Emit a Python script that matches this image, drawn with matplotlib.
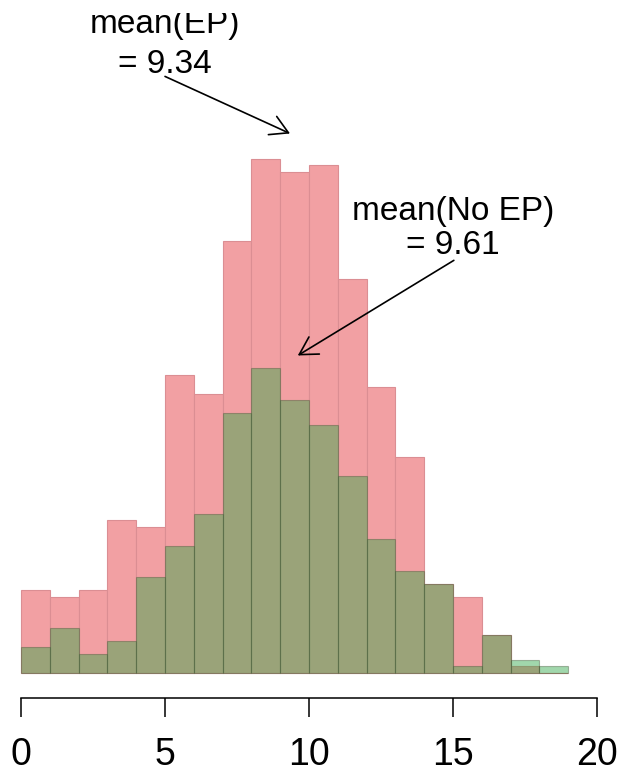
import numpy as np
import matplotlib
matplotlib.use("Agg")
import matplotlib.pyplot as plt

plt.rcParams['font.family'] = ['Liberation Sans', 'DejaVu Sans']

# bin edges 0..19, width 1
bin_left = np.arange(0, 19)
# counts
no_ep_counts = [13, 12, 13, 24, 23, 47, 44, 68, 81, 79, 80, 62, 45, 34, 14, 12, 6, 1, 0]
ep_counts = [4, 7, 3, 5, 15, 20, 25, 41, 48, 43, 39, 31, 21, 16, 14, 1, 6, 2, 1]

mean_ep = 9.34
mean_no_ep = 9.61

W, H = 621, 777
fig = plt.figure(figsize=(W / 100, H / 100), dpi=100)
# plot region like R's: 0..20 / 0..100 padded by 4%
ax = fig.add_axes([-2 / W, (H - 698) / H, 622 / W, (698 - 13) / H])

ax.bar(bin_left, no_ep_counts, width=1, align='edge', color='#F2A0A3',
       edgecolor='#DB8E93', linewidth=0.8)
ax.bar(bin_left, ep_counts, width=1, align='edge', color=(0.19, 0.655, 0.28, 0.45),
       edgecolor=(0.25, 0.33, 0.2, 0.4), linewidth=0.8)

ax.set_xlim(-0.8, 20.8)
ax.set_ylim(-4, 104)

for s in ['top', 'right', 'left']:
    ax.spines[s].set_visible(False)
ax.spines['bottom'].set_bounds(0, 20)
ax.spines['bottom'].set_linewidth(1.1)
ax.set_yticks([])
ax.set_xticks([0, 5, 10, 15, 20])
ax.tick_params(axis='x', length=14, width=1.1, pad=14, labelsize=27)

# labels are clipped to the plot region, as in R
ax.text(5, 99, 'mean(EP)\n= %.2f' % mean_ep, ha='center', va='center',
        fontsize=24, linespacing=1.38, clip_on=True)
ax.text(15, 70, 'mean(No EP)\n= %.2f' % mean_no_ep, ha='center', va='center',
        fontsize=24, linespacing=1.12, clip_on=True)

arrow = dict(arrowstyle='->,head_length=0.42,head_width=0.24', lw=1.2,
             mutation_scale=30, shrinkA=0, shrinkB=0, color='black')
ax.annotate('', xy=(mean_ep, 85), xytext=(5, 94), arrowprops=arrow)
ax.annotate('', xy=(mean_no_ep, 50), xytext=(15.03, 65), arrowprops=arrow)

fig.savefig('out.png', dpi=100)
